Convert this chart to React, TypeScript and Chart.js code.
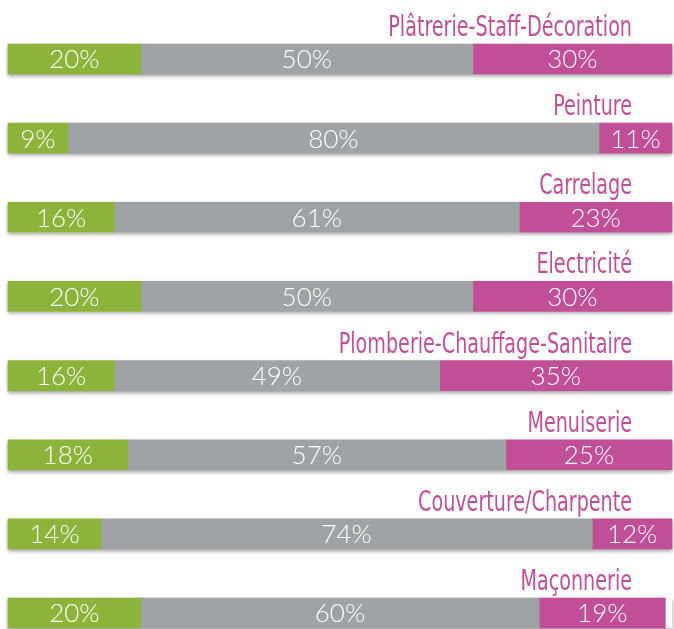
import React, { useEffect, useRef } from "react";
import { Chart, registerables } from "chart.js";

Chart.register(...registerables);

const categories = [
  "Plâtrerie-Staff-Décoration",
  "Peinture",
  "Carrelage",
  "Electricité",
  "Plomberie-Chauffage-Sanitaire",
  "Menuiserie",
  "Couverture/Charpente",
  "Maçonnerie",
];
const greenValues = [20, 9, 16, 20, 16, 18, 14, 20];
const grayValues = [50, 80, 61, 50, 49, 57, 74, 60];
const pinkValues = [30, 11, 23, 30, 35, 25, 12, 19];

const GREEN = "#8cb43a";
const GRAY = "#a0a3a5";
const PINK = "#c04f98";
const BAR_H = 30;

const shadowPlugin = {
  id: "barShadow",
  beforeDatasetsDraw(chart: any) {
    const { ctx, chartArea, scales } = chart;
    const y = scales.y;
    ctx.save();
    ctx.shadowColor = "rgba(0,0,0,0.4)";
    ctx.shadowBlur = 4;
    ctx.shadowOffsetY = 2;
    ctx.fillStyle = "#ffffff";
    categories.forEach((_, i) => {
      const cy = y.getPixelForValue(i);
      ctx.fillRect(chartArea.left, cy - BAR_H / 2, chartArea.right - chartArea.left, BAR_H);
    });
    ctx.restore();
  },
};

const labelPlugin = {
  id: "labels",
  afterDatasetsDraw(chart: any) {
    const { ctx, chartArea, scales } = chart;
    const y = scales.y;
    ctx.save();
    // titles
    ctx.fillStyle = PINK;
    ctx.textAlign = "right";
    ctx.textBaseline = "alphabetic";
    categories.forEach((c, i) => {
      const cy = y.getPixelForValue(i);
      ctx.save();
      ctx.translate(chartArea.right - 40, cy - BAR_H / 2 - 8);
      ctx.scale(0.76, 1);
      ctx.font = "28px 'Liberation Sans Narrow', 'DejaVu Sans Condensed', sans-serif";
      ctx.fillText(c, 0, 0);
      ctx.restore();
    });
    // percentages
    ctx.fillStyle = "#ffffff";
    ctx.textAlign = "center";
    ctx.textBaseline = "middle";
    ctx.font = "300 26px Lato, 'Open Sans', sans-serif";
    chart.data.datasets.forEach((ds: any, di: number) => {
      const meta = chart.getDatasetMeta(di);
      meta.data.forEach((bar: any, i: number) => {
        const cx = (bar.x + bar.base) / 2;
        ctx.fillText(ds.data[i] + "%", cx, bar.y + 1);
      });
    });
    ctx.restore();
  },
};

export default function App() {
  const ref = useRef<HTMLCanvasElement>(null);
  useEffect(() => {
    document.body.style.margin = "0";
    const chart = new Chart(ref.current!, {
      type: "bar",
      data: {
        labels: categories,
        datasets: [
          { data: greenValues, backgroundColor: GREEN, barThickness: BAR_H, clip: false as any },
          { data: grayValues, backgroundColor: GRAY, barThickness: BAR_H, clip: false as any },
          { data: pinkValues, backgroundColor: PINK, barThickness: BAR_H, clip: false as any },
        ],
      },
      options: {
        indexAxis: "y",
        animation: false,
        responsive: false,
        layout: { padding: { left: 8, right: 2, top: 59, bottom: 16 } },
        plugins: { legend: { display: false }, tooltip: { enabled: false } },
        scales: {
          x: { stacked: true, min: 0, max: 100, display: false },
          y: { stacked: true, display: false, offset: false },
        },
      },
      plugins: [shadowPlugin, labelPlugin],
    });
    return () => chart.destroy();
  }, []);
  return (
    <div style={{ width: 674, height: 629 }}>
      <canvas ref={ref} width={674} height={629} />
    </div>
  );
}
